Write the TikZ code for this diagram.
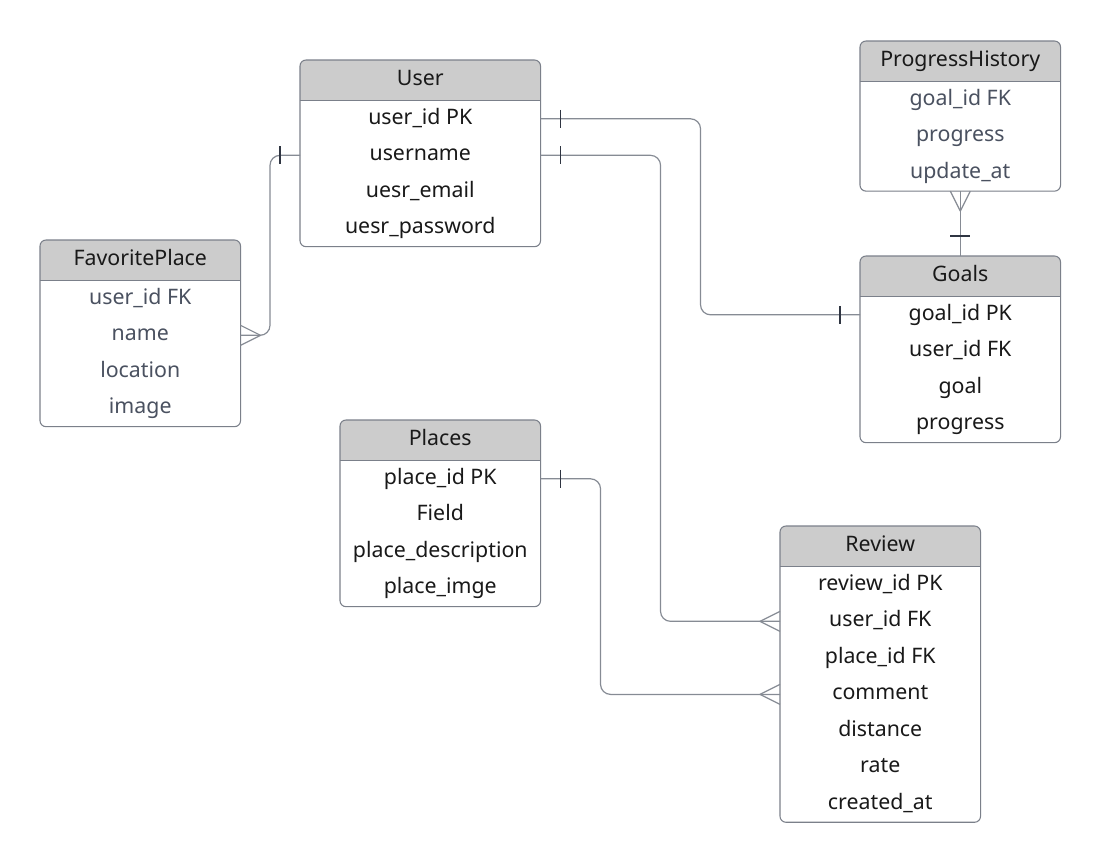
\documentclass[tikz,border=0pt]{standalone}
\usepackage{fontspec}
\setmainfont{Noto Sans}
\usetikzlibrary{positioning,calc,backgrounds}

\definecolor{hdrgray}{HTML}{CCCCCC}
\definecolor{framegray}{HTML}{7B808A}
\definecolor{linkgray}{HTML}{868B94}
\definecolor{markdark}{HTML}{2F3542}
\definecolor{softtext}{HTML}{4A5160}

\begin{document}
\begin{tikzpicture}[
    x=0.75pt, y=-0.75pt,
    every node/.style={font=\fontsize{16}{19}\selectfont, text=black!90,
                       text height=11.5pt, text depth=3.5pt},
    head/.style={anchor=north west, minimum height=30pt, inner sep=0pt},
    attr/.style={minimum height=27pt, inner sep=0pt, below=0pt of #1},
    faded/.style={text=softtext},
    frame/.style={draw=framegray, line width=0.8pt, rounded corners=4.5pt},
    rel/.style={draw=linkgray, line width=0.9pt, rounded corners=7.5pt},
    tickline/.style={draw=markdark, line width=0.8pt},
    crowline/.style={draw=linkgray, line width=0.9pt}
]
\useasboundingbox (0,0) rectangle (1100,858);

% === User ===
\begin{scope}[nodes={minimum width=180pt}]
\node[head] (user) at (300,60) {User};
\node[attr=user] (user1) {user\_id PK};
\node[attr=user1] (user2) {username};
\node[attr=user2] (user3) {uesr\_email};
\node[attr=user3] (user4) {uesr\_password};
\end{scope}
\begin{scope}[on background layer]
\fill[hdrgray, rounded corners=4.5pt] (user.north west) rectangle (user4.south east);
\fill[white] (user.south west) rectangle (user4.south east);
\end{scope}
\draw[frame] (user.north west) rectangle (user4.south east);
\draw[framegray, line width=0.8pt] (user.south west) -- (user.south east);

% === FavoritePlace ===
\begin{scope}[nodes={minimum width=150pt}]
\node[head] (fav) at (40,240) {FavoritePlace};
\node[attr=fav, faded] (fav1) {user\_id FK};
\node[attr=fav1, faded] (fav2) {name};
\node[attr=fav2, faded] (fav3) {location};
\node[attr=fav3, faded] (fav4) {image};
\end{scope}
\begin{scope}[on background layer]
\fill[hdrgray, rounded corners=4.5pt] (fav.north west) rectangle (fav4.south east);
\fill[white] (fav.south west) rectangle (fav4.south east);
\end{scope}
\draw[frame] (fav.north west) rectangle (fav4.south east);
\draw[framegray, line width=0.8pt] (fav.south west) -- (fav.south east);

% === ProgressHistory ===
\begin{scope}[nodes={minimum width=150pt}]
\node[head] (ph) at (860,41) {ProgressHistory};
\node[attr=ph, faded] (ph1) {goal\_id FK};
\node[attr=ph1, faded] (ph2) {progress};
\node[attr=ph2, faded] (ph3) {update\_at};
\end{scope}
\begin{scope}[on background layer]
\fill[hdrgray, rounded corners=4.5pt] (ph.north west) rectangle (ph3.south east);
\fill[white] (ph.south west) rectangle (ph3.south east);
\end{scope}
\draw[frame] (ph.north west) rectangle (ph3.south east);
\draw[framegray, line width=0.8pt] (ph.south west) -- (ph.south east);

% === Goals ===
\begin{scope}[nodes={minimum width=150pt}]
\node[head] (goals) at (860,256) {Goals};
\node[attr=goals] (goals1) {goal\_id PK};
\node[attr=goals1] (goals2) {user\_id FK};
\node[attr=goals2] (goals3) {goal};
\node[attr=goals3] (goals4) {progress};
\end{scope}
\begin{scope}[on background layer]
\fill[hdrgray, rounded corners=4.5pt] (goals.north west) rectangle (goals4.south east);
\fill[white] (goals.south west) rectangle (goals4.south east);
\end{scope}
\draw[frame] (goals.north west) rectangle (goals4.south east);
\draw[framegray, line width=0.8pt] (goals.south west) -- (goals.south east);

% === Places ===
\begin{scope}[nodes={minimum width=150pt}]
\node[head] (places) at (340,420) {Places};
\node[attr=places] (places1) {place\_id PK};
\node[attr=places1] (places2) {Field};
\node[attr=places2] (places3) {place\_description};
\node[attr=places3] (places4) {place\_imge};
\end{scope}
\begin{scope}[on background layer]
\fill[hdrgray, rounded corners=4.5pt] (places.north west) rectangle (places4.south east);
\fill[white] (places.south west) rectangle (places4.south east);
\end{scope}
\draw[frame] (places.north west) rectangle (places4.south east);
\draw[framegray, line width=0.8pt] (places.south west) -- (places.south east);

% === Review ===
\begin{scope}[nodes={minimum width=150pt}]
\node[head] (review) at (780,526) {Review};
\node[attr=review] (review1) {review\_id PK};
\node[attr=review1] (review2) {user\_id FK};
\node[attr=review2] (review3) {place\_id FK};
\node[attr=review3] (review4) {comment};
\node[attr=review4] (review5) {distance};
\node[attr=review5] (review6) {rate};
\node[attr=review6] (review7) {created\_at};
\end{scope}
\begin{scope}[on background layer]
\fill[hdrgray, rounded corners=4.5pt] (review.north west) rectangle (review7.south east);
\fill[white] (review.south west) rectangle (review7.south east);
\end{scope}
\draw[frame] (review.north west) rectangle (review7.south east);
\draw[framegray, line width=0.8pt] (review.south west) -- (review.south east);

% === Relations ===
% User -- FavoritePlace
\draw[rel] (user2.west) -- ++(-30,0) |- (fav2.east);
\draw[tickline] ([xshift=-15pt]user2.west) ++(0,-9) -- ++(0,18);
\draw[crowline] ([xshift=15pt]fav2.east) -- ([yshift=7.5pt]fav2.east)
                ([xshift=15pt]fav2.east) -- ([yshift=-7.5pt]fav2.east);

% User -- Goals
\draw[rel] (user1.east) -- ++(160,0) |- (goals1.west);
\draw[tickline] ([xshift=15pt]user1.east) ++(0,-9) -- ++(0,18);
\draw[tickline] ([xshift=-15pt]goals1.west) ++(0,-9) -- ++(0,18);

% User -- Review
\draw[rel] (user2.east) -- ++(120,0) |- (review2.west);
\draw[tickline] ([xshift=15pt]user2.east) ++(0,-9) -- ++(0,18);
\draw[crowline] ([xshift=-15pt]review2.west) -- ([yshift=7.5pt]review2.west)
                ([xshift=-15pt]review2.west) -- ([yshift=-7.5pt]review2.west);

% Places -- Review
\draw[rel] (places1.east) -- ++(60,0) |- (review4.west);
\draw[tickline] ([xshift=15pt]places1.east) ++(0,-9) -- ++(0,18);
\draw[crowline] ([xshift=-15pt]review4.west) -- ([yshift=7.5pt]review4.west)
                ([xshift=-15pt]review4.west) -- ([yshift=-7.5pt]review4.west);

% ProgressHistory -- Goals
\draw[rel] (ph3.south) -- (goals.north);
\draw[crowline] ([yshift=-15pt]ph3.south) -- ([xshift=-7.5pt]ph3.south)
                ([yshift=-15pt]ph3.south) -- ([xshift=7.5pt]ph3.south);
\draw[tickline] ([yshift=15pt]goals.north) ++(-10,0) -- ++(20,0);

\end{tikzpicture}
\end{document}
